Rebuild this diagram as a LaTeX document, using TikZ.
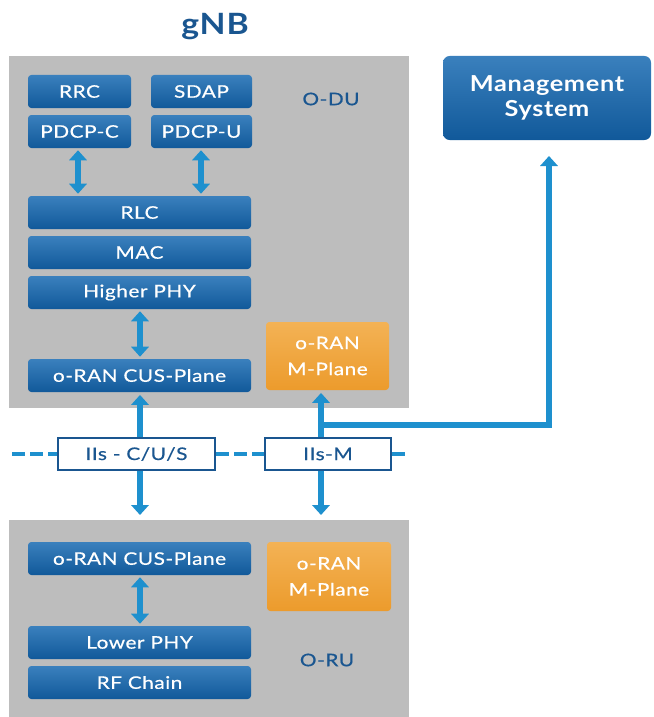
\documentclass[tikz,border=0pt]{standalone}
\usepackage{fontspec}
\setmainfont{Lato}[FakeStretch=1.2, LetterSpace=3]
\newfontfamily\bodyfont{Lato}[FakeStretch=1.2, LetterSpace=3, FakeBold=0.6]
\newfontfamily\headfont{Lato}[FakeStretch=1.15, LetterSpace=3]
\usetikzlibrary{arrows.meta,calc}
\definecolor{boxblue}{HTML}{11599A}
\definecolor{boxtop}{HTML}{3A80BD}
\definecolor{arrowblue}{HTML}{1E90CE}
\definecolor{plorange}{HTML}{EC9B2C}
\definecolor{pltop}{HTML}{F3B255}
\definecolor{panelgray}{HTML}{BDBDBD}
\definecolor{labelblue}{HTML}{1A5690}
\def\u{0.75pt}
\tikzset{
  layer/.style={rounded corners=2.5pt, top color=boxtop, middle color=boxblue, bottom color=boxblue,
    text=white, font=\bodyfont\fontsize{13}{16}\selectfont, inner sep=0pt, minimum height=33*\u},
  mplane/.style={rounded corners=2.5pt, top color=pltop, middle color=plorange, bottom color=plorange,
    text=white, font=\bodyfont\fontsize{13}{19.5}\selectfont, align=center, inner sep=0pt,
    minimum width=123*\u, minimum height=68*\u},
  iface/.style={draw=labelblue, line width=1.6pt, fill=white, text=labelblue,
    font=\bodyfont\fontsize{13}{16}\selectfont, inner sep=0pt, minimum height=32*\u},
  panel/.style={fill=panelgray},
  panellabel/.style={text=labelblue, font=\bodyfont\fontsize{13}{16}\selectfont},
  link/.style={draw=arrowblue, line width=4.5pt, shorten <=1.5pt, shorten >=1.5pt,
    {Triangle[width=13pt,length=7.5pt]}-{Triangle[width=13pt,length=7.5pt]}},
  uplink/.style={draw=arrowblue, line width=4.5pt, -{Triangle[width=13pt,length=7.5pt]}},
  refline/.style={draw=arrowblue, line width=3pt, dash pattern=on 9.5pt off 4pt}
}
\begin{document}
\begin{tikzpicture}[x=0.75pt,y=-0.75pt]
\useasboundingbox (0,0) rectangle (653,717);

% title
\node[text=labelblue, font=\headfont\bfseries\fontsize{22}{26}\selectfont] (title) at (215,27) {gNB};

% O-DU panel
\fill[panel] (9,56) rectangle (409,408);
\node[panellabel] (odu) at (331,99) {O-DU};
\node[layer, minimum width=103*\u] (rrc)   at (79.5,91.5)  {RRC};
\node[layer, minimum width=101*\u] (sdap)  at (201.5,91.5) {SDAP};
\node[layer, minimum width=103*\u] (pdcpc) at (79.5,131.5) {PDCP-C};
\node[layer, minimum width=101*\u] (pdcpu) at (201.5,131.5) {PDCP-U};
\node[layer, minimum width=223*\u] (rlc)   at (139.5,212.5) {RLC};
\node[layer, minimum width=223*\u] (mac)   at (139.5,252.5) {MAC};
\node[layer, minimum width=223*\u] (hphy)  at (139.5,292.5) {Higher PHY};
\node[layer, minimum width=223*\u] (cusdu) at (139.5,375.5) {o-RAN CUS-Plane};
\node[mplane] (mdu) at (327.5,356) {o-RAN\\M-Plane};

% O-RU panel
\fill[panel] (9,520) rectangle (409,717);
\node[panellabel] (oru) at (327,660) {O-RU};
\node[layer, minimum width=223*\u] (cusru) at (139.5,558.5) {o-RAN CUS-Plane};
\node[mplane, minimum width=124*\u, minimum height=69*\u] (mru) at (329,576.5) {o-RAN\\M-Plane};
\node[layer, minimum width=223*\u] (lphy)  at (139.5,642.5) {Lower PHY};
\node[layer, minimum width=223*\u] (rf)    at (139.5,682.5) {RF Chain};

% management system
\node[rounded corners=5pt, top color=boxtop, middle color=boxblue, bottom color=boxblue,
  text=white, font=\headfont\bfseries\fontsize{16.5}{19}\selectfont, align=center,
  minimum width=208*\u, minimum height=84*\u, inner sep=0pt] (mgmt) at (547,98) {Management\\System};

% fronthaul interfaces
\node[iface, minimum width=157*\u] (iis) at (136.5,454) {IIs - C/U/S};
\node[iface, minimum width=126*\u] (iim) at (328,454) {IIs-M};
\coordinate (dl) at (12,454);
\coordinate (dr) at (410,454);
\draw[refline] (dl) -- (iis.west);
\draw[refline] (iis.east) -- (iim.west);
\draw[refline] (iim.east) -- (dr);

% vertical tracks of the links
\coordinate (xc) at (78,0);
\coordinate (xu) at (201,0);
\coordinate (xs) at (140,0);
\coordinate (xm) at (321,0);

% intra-unit links
\draw[link] (pdcpc.south -| xc) -- (rlc.north -| xc);
\draw[link] (pdcpu.south -| xu) -- (rlc.north -| xu);
\draw[link] (hphy.south -| xs) -- (cusdu.north -| xs);
\draw[link] (cusru.south -| xs) -- (lphy.north -| xs);

% links across the interfaces
\coordinate (cusdn) at (140,515);
\coordinate (mdn) at (321,515);
\draw[uplink, shorten >=2pt] (iis.north -| xs) -- (cusdu.south -| xs);
\draw[uplink] (iis.south -| xs) -- (cusdn);
\draw[uplink, shorten >=2pt] (iim.north -| xm) -- (mdu.south -| xm);
\draw[uplink] (iim.south -| xm) -- (mdn);

% management path
\coordinate (mj) at (319,425);
\coordinate (mtip) at (549,156);
\draw[uplink] (mj) -| (mtip);
\end{tikzpicture}
\end{document}
